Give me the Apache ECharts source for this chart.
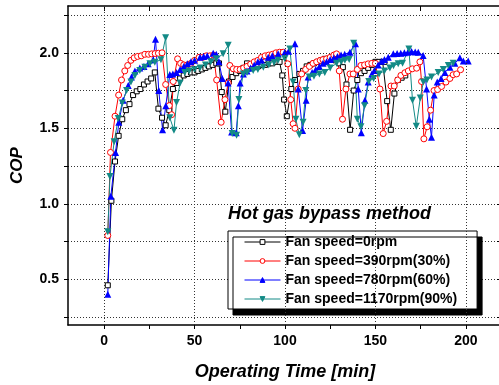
<!DOCTYPE html>
<html>
<head>
<meta charset="utf-8">
<script src="https://cdn.jsdelivr.net/npm/echarts@6/dist/echarts.min.js"></script>
<style>
  html, body { margin: 0; padding: 0; background: #fff; }
  #chart { width: 499px; height: 385px; }
</style>
</head>
<body>
<div id="chart"></div>
<script>
// [time (min), COP]
const fan0 = [[2,0.46],[4,1.02],[6,1.28],[8,1.45],[10,1.56],[12,1.62],[14,1.66],[16,1.72],[18,1.745],[20,1.76],[22,1.79],[24,1.81],[26,1.83],[28,1.87],[30,1.63],[32,1.57],[34,1.52],[36,1.62],[38,1.76],[40,1.8],[42,1.83],[44,1.85],[46,1.86],[48,1.87],[50,1.87],[52,1.88],[54,1.89],[56,1.9],[58,1.91],[60,1.92],[62,1.93],[63.5,1.93],[65,1.74],[67,1.61],[69,1.81],[71,1.84],[73,1.865],[75,1.88],[77,1.9],[79,1.93],[81,1.92],[83,1.91],[85,1.91],[87,1.92],[89,1.92],[91,1.93],[93,1.93],[95,1.94],[97,1.94],[98.5,1.85],[99.5,1.69],[101,1.58],[103.5,1.76],[105.5,1.82],[108,1.86],[110,1.88],[112,1.91],[114,1.92],[116,1.93],[118,1.94],[120,1.95],[122,1.96],[124,1.96],[126,1.96],[128,1.95],[130,1.93],[132,1.905],[134,1.79],[136,1.49],[138,1.75],[140,1.82],[142,1.865],[144,1.88],[146,1.9],[148,1.92],[150,1.94],[152,1.94],[154,1.94],[155,1.94],[156.5,1.68],[158.5,1.49],[160.5,1.73],[162.5,1.82],[164.5,1.835],[166.5,1.85]];

const fan390 = [[2,0.79],[3.5,1.34],[6,1.58],[8,1.72],[9.6,1.82],[11.4,1.88],[13,1.916],[14.8,1.95],[16.6,1.967],[18.5,1.976],[20.5,1.98],[22.5,1.99],[24.5,1.99],[26.3,1.993],[28.2,1.995],[30,1.997],[32,2.0],[34,1.79],[36,1.65],[37.3,1.59],[38.2,1.81],[40.6,1.96],[42.3,1.93],[44,1.92],[46,1.92],[48,1.93],[50,1.95],[52.5,1.97],[54.5,1.97],[56.5,1.98],[58.5,1.98],[60.5,1.985],[62.2,1.82],[64.7,1.54],[66.8,1.69],[68.6,1.8],[69.5,1.916],[71.4,1.894],[73.3,1.89],[75.2,1.89],[77.1,1.9],[79,1.91],[81,1.925],[83,1.94],[85,1.95],[87,1.97],[89,1.98],[91,1.985],[93,1.99],[95,2.0],[97,2.004],[99,2.004],[101.5,1.927],[103.2,1.69],[104.5,1.53],[105.5,1.5],[107.3,1.76],[109.2,1.86],[111.4,1.89],[113.5,1.91],[115.5,1.93],[117.5,1.94],[119.5,1.95],[121,1.955],[123,1.96],[125,1.97],[127,1.985],[128.5,1.993],[130,1.88],[131.8,1.56],[133.7,1.76],[135.9,1.86],[137.7,1.86],[140,1.89],[142,1.916],[144,1.92],[146,1.927],[148,1.93],[150,1.93],[152.5,1.76],[154.3,1.465],[156.2,1.546],[158.6,1.78],[160.4,1.78],[162.3,1.82],[164.1,1.85],[166.3,1.868],[168.2,1.88],[170.4,1.894],[172.8,1.898],[174.6,1.94],[175.5,1.81],[176.8,1.43],[178.6,1.51],[180.5,1.62],[182.4,1.75],[184.4,1.757],[186.6,1.777],[189,1.806],[191.2,1.83],[193,1.855],[194.9,1.86],[197.1,1.888]];

const fan780 = [[2,0.4],[3.7,1.05],[6.3,1.34],[8.1,1.54],[10.5,1.685],[13.3,1.784],[15.1,1.84],[17,1.88],[19.7,1.9],[22,1.91],[24.3,1.927],[27.1,1.954],[28.4,2.09],[30.2,1.75],[32.3,1.49],[34.1,1.65],[36.3,1.857],[38,1.86],[40,1.87],[42,1.89],[44,1.91],[46,1.927],[48,1.94],[50,1.95],[53,1.97],[55,1.975],[57,1.98],[60.3,1.997],[62,1.99],[63.5,1.94],[65.3,1.83],[68.5,1.8],[70.5,1.475],[73,1.47],[74.2,1.65],[75.2,1.8],[77,1.86],[79,1.88],[81,1.9],[83,1.92],[85,1.94],[87,1.95],[90.7,1.97],[93,1.98],[96.2,1.993],[99.9,2.004],[102,2.01],[105.5,2.06],[107.3,1.76],[109.7,1.485],[111.7,1.685],[112.8,1.84],[115,1.87],[117,1.89],[119,1.91],[121,1.93],[123,1.94],[125,1.955],[127,1.965],[129,1.975],[131,1.985],[133,1.99],[135.9,2.004],[139,2.06],[140.5,1.76],[142.2,1.47],[144.2,1.685],[146,1.806],[148,1.86],[149.4,1.883],[151.5,1.92],[153.4,1.944],[155,1.955],[157.1,1.97],[159.9,1.993],[162,1.995],[164,1.997],[166,2.0],[168,2.004],[170,2.008],[172,2.006],[173.7,2.004],[176.4,1.982],[178.3,1.76],[179.8,1.56],[181,1.44],[182.5,1.72],[184.2,1.806],[186.3,1.83],[188.4,1.87],[191.2,1.905],[193.9,1.93],[196.7,1.967],[198.6,1.945],[201.3,1.945]];

const fan1170 = [[2,0.815],[3.2,1.18],[5.5,1.41],[7.8,1.564],[10,1.667],[12.4,1.75],[14.8,1.806],[17,1.85],[19.7,1.883],[22.5,1.905],[25.3,1.927],[28,1.938],[31.4,1.954],[34,2.1],[36.3,1.57],[38.6,1.487],[40,1.67],[42,1.8],[44.6,1.87],[47,1.88],[50,1.89],[53,1.9],[56,1.92],[59,1.94],[62,1.96],[65.8,1.993],[68.6,2.05],[70.8,1.465],[73.2,1.454],[74.5,1.69],[76.9,1.86],[79,1.87],[82.4,1.883],[85,1.89],[88,1.905],[91,1.92],[94,1.935],[96.2,1.95],[99.9,1.96],[102.7,2.026],[104.5,1.806],[106,1.56],[107.9,1.458],[110,1.54],[111.5,1.75],[113.4,1.84],[116,1.845],[119,1.86],[122,1.87],[125,1.9],[128.5,1.93],[131,1.94],[133.1,1.95],[135.5,1.955],[138,2.063],[140,1.56],[142,1.51],[144,1.65],[146.3,1.81],[149,1.83],[152,1.86],[155,1.88],[158,1.9],[160,1.915],[162.6,1.927],[165,1.93],[168.5,2.026],[170.5,1.685],[172.6,1.513],[174.8,1.7],[176.5,1.806],[178.5,1.82],[181,1.84],[184.7,1.87],[187.5,1.89],[190.3,1.916],[193,1.93]];

const seriesNames = ['Fan speed=0rpm', 'Fan speed=390rpm(30%)', 'Fan speed=780rpm(60%)', 'Fan speed=1170rpm(90%)'];

const xTicks = [0, 25, 50, 75, 100, 125, 150, 175, 200];
const xLabels = [0, 50, 100, 150, 200];
const yTicks = [0.25, 0.5, 0.75, 1.0, 1.25, 1.5, 1.75, 2.0, 2.25];
const yLabels = [0.5, 1.0, 1.5, 2.0];

const FONT = "'Liberation Sans', Arial, Helvetica, sans-serif";
const X_MIN = -20, X_MAX = 220, Y_MIN = 0.197, Y_MAX = 2.31;

const chart = echarts.init(document.getElementById('chart'), null, { renderer: 'canvas' });

const axisLine = { show: true, onZero: false, lineStyle: { color: '#000', width: 1.5 } };
const dotStyle = { color: '#333', type: [1, 2], width: 1 };

function lineSeries(name, data, color, symbol, size, hollow) {
  return {
    name: name,
    type: 'line',
    data: data,
    z: 3,
    symbol: symbol,
    symbolSize: size,
    showAllSymbol: true,
    lineStyle: { color: color, width: 1 },
    itemStyle: hollow
      ? { color: '#fff', borderColor: color, borderWidth: 1 }
      : { color: color, borderColor: color, borderWidth: 0 },
    emphasis: { disabled: true }
  };
}

const option = {
  animation: false,
  textStyle: { fontFamily: FONT },
  title: {
    text: 'Hot gas bypass method',
    left: 228,
    top: 205,
    padding: 0,
    textStyle: { fontSize: 18, fontWeight: 'bold', fontStyle: 'italic', color: '#000', fontFamily: FONT }
  },
  legend: {
    data: seriesNames,
    orient: 'vertical',
    left: 228,
    top: 231,
    padding: [4, 20, 3, 16],
    itemGap: 5,
    itemWidth: 36,
    itemHeight: 6,
    itemStyle: { borderWidth: 1 },
    lineStyle: { width: 1 },
    backgroundColor: '#fff',
    borderColor: '#000',
    borderWidth: 1,
    shadowColor: '#000',
    shadowBlur: 0,
    shadowOffsetX: 5,
    shadowOffsetY: 6,
    textStyle: { fontSize: 14, fontWeight: 'bold', color: '#000', fontFamily: FONT }
  },
  grid: { left: 68, top: 6, width: 434, height: 319, outerBoundsMode: 'none' },
  xAxis: [
    {
      type: 'value', position: 'bottom', min: X_MIN, max: X_MAX,
      axisLine: axisLine,
      axisTick: { show: true, customValues: xTicks, length: 4, inside: false, lineStyle: { color: '#000', width: 1 } },
      axisLabel: { customValues: xLabels, fontSize: 14, fontWeight: 'bold', color: '#000', margin: 9, fontFamily: FONT },
      splitLine: { show: false },
      name: 'Operating Time [min]',
      nameLocation: 'middle',
      nameGap: 38,
      nameTextStyle: { fontSize: 18, fontWeight: 'bold', fontStyle: 'italic', color: '#000', fontFamily: FONT }
    },
    {
      type: 'value', position: 'top', min: X_MIN, max: X_MAX,
      axisLine: axisLine,
      axisTick: { show: true, customValues: xTicks, length: 5, inside: true, lineStyle: { color: '#000', width: 1 } },
      axisLabel: { show: false },
      splitLine: { show: false }
    }
  ],
  yAxis: [
    {
      type: 'value', position: 'left', min: Y_MIN, max: Y_MAX,
      axisLine: axisLine,
      axisTick: { show: true, customValues: yTicks, length: 4, inside: false, lineStyle: { color: '#000', width: 1 } },
      axisLabel: {
        customValues: yLabels, fontSize: 14, fontWeight: 'bold', color: '#000', margin: 9, fontFamily: FONT,
        formatter: function (v) { return Number(v).toFixed(1); }
      },
      splitLine: { show: true, lineStyle: dotStyle },
      name: 'COP',
      nameLocation: 'middle',
      nameGap: 42,
      nameRotate: 90,
      nameTextStyle: { fontSize: 17, fontWeight: 'bold', fontStyle: 'italic', color: '#000', fontFamily: FONT }
    },
    {
      type: 'value', position: 'right', min: Y_MIN, max: Y_MAX,
      axisLine: axisLine,
      axisTick: { show: true, customValues: yTicks, length: 5, inside: true, lineStyle: { color: '#000', width: 1 } },
      axisLabel: { show: false },
      splitLine: { show: false }
    }
  ],
  series: [
    {
      // vertical dotted grid lines at the labelled times
      type: 'line',
      data: [],
      z: 1,
      silent: true,
      markLine: {
        silent: true,
        symbol: ['none', 'none'],
        label: { show: false },
        lineStyle: dotStyle,
        emphasis: { disabled: true },
        data: xLabels.map(function (v) { return { xAxis: v }; })
      }
    },
    lineSeries(seriesNames[0], fan0, '#000000', 'rect', 5, true),
    lineSeries(seriesNames[1], fan390, '#ff0000', 'circle', 6, true),
    lineSeries(seriesNames[2], fan780, '#0000ff', 'triangle', 7, false),
    lineSeries(seriesNames[3], fan1170, '#138a86', 'path://M0,0 L10,0 L5,9 Z', 7, false)
  ]
};

chart.setOption(option);
</script>
</body>
</html>
